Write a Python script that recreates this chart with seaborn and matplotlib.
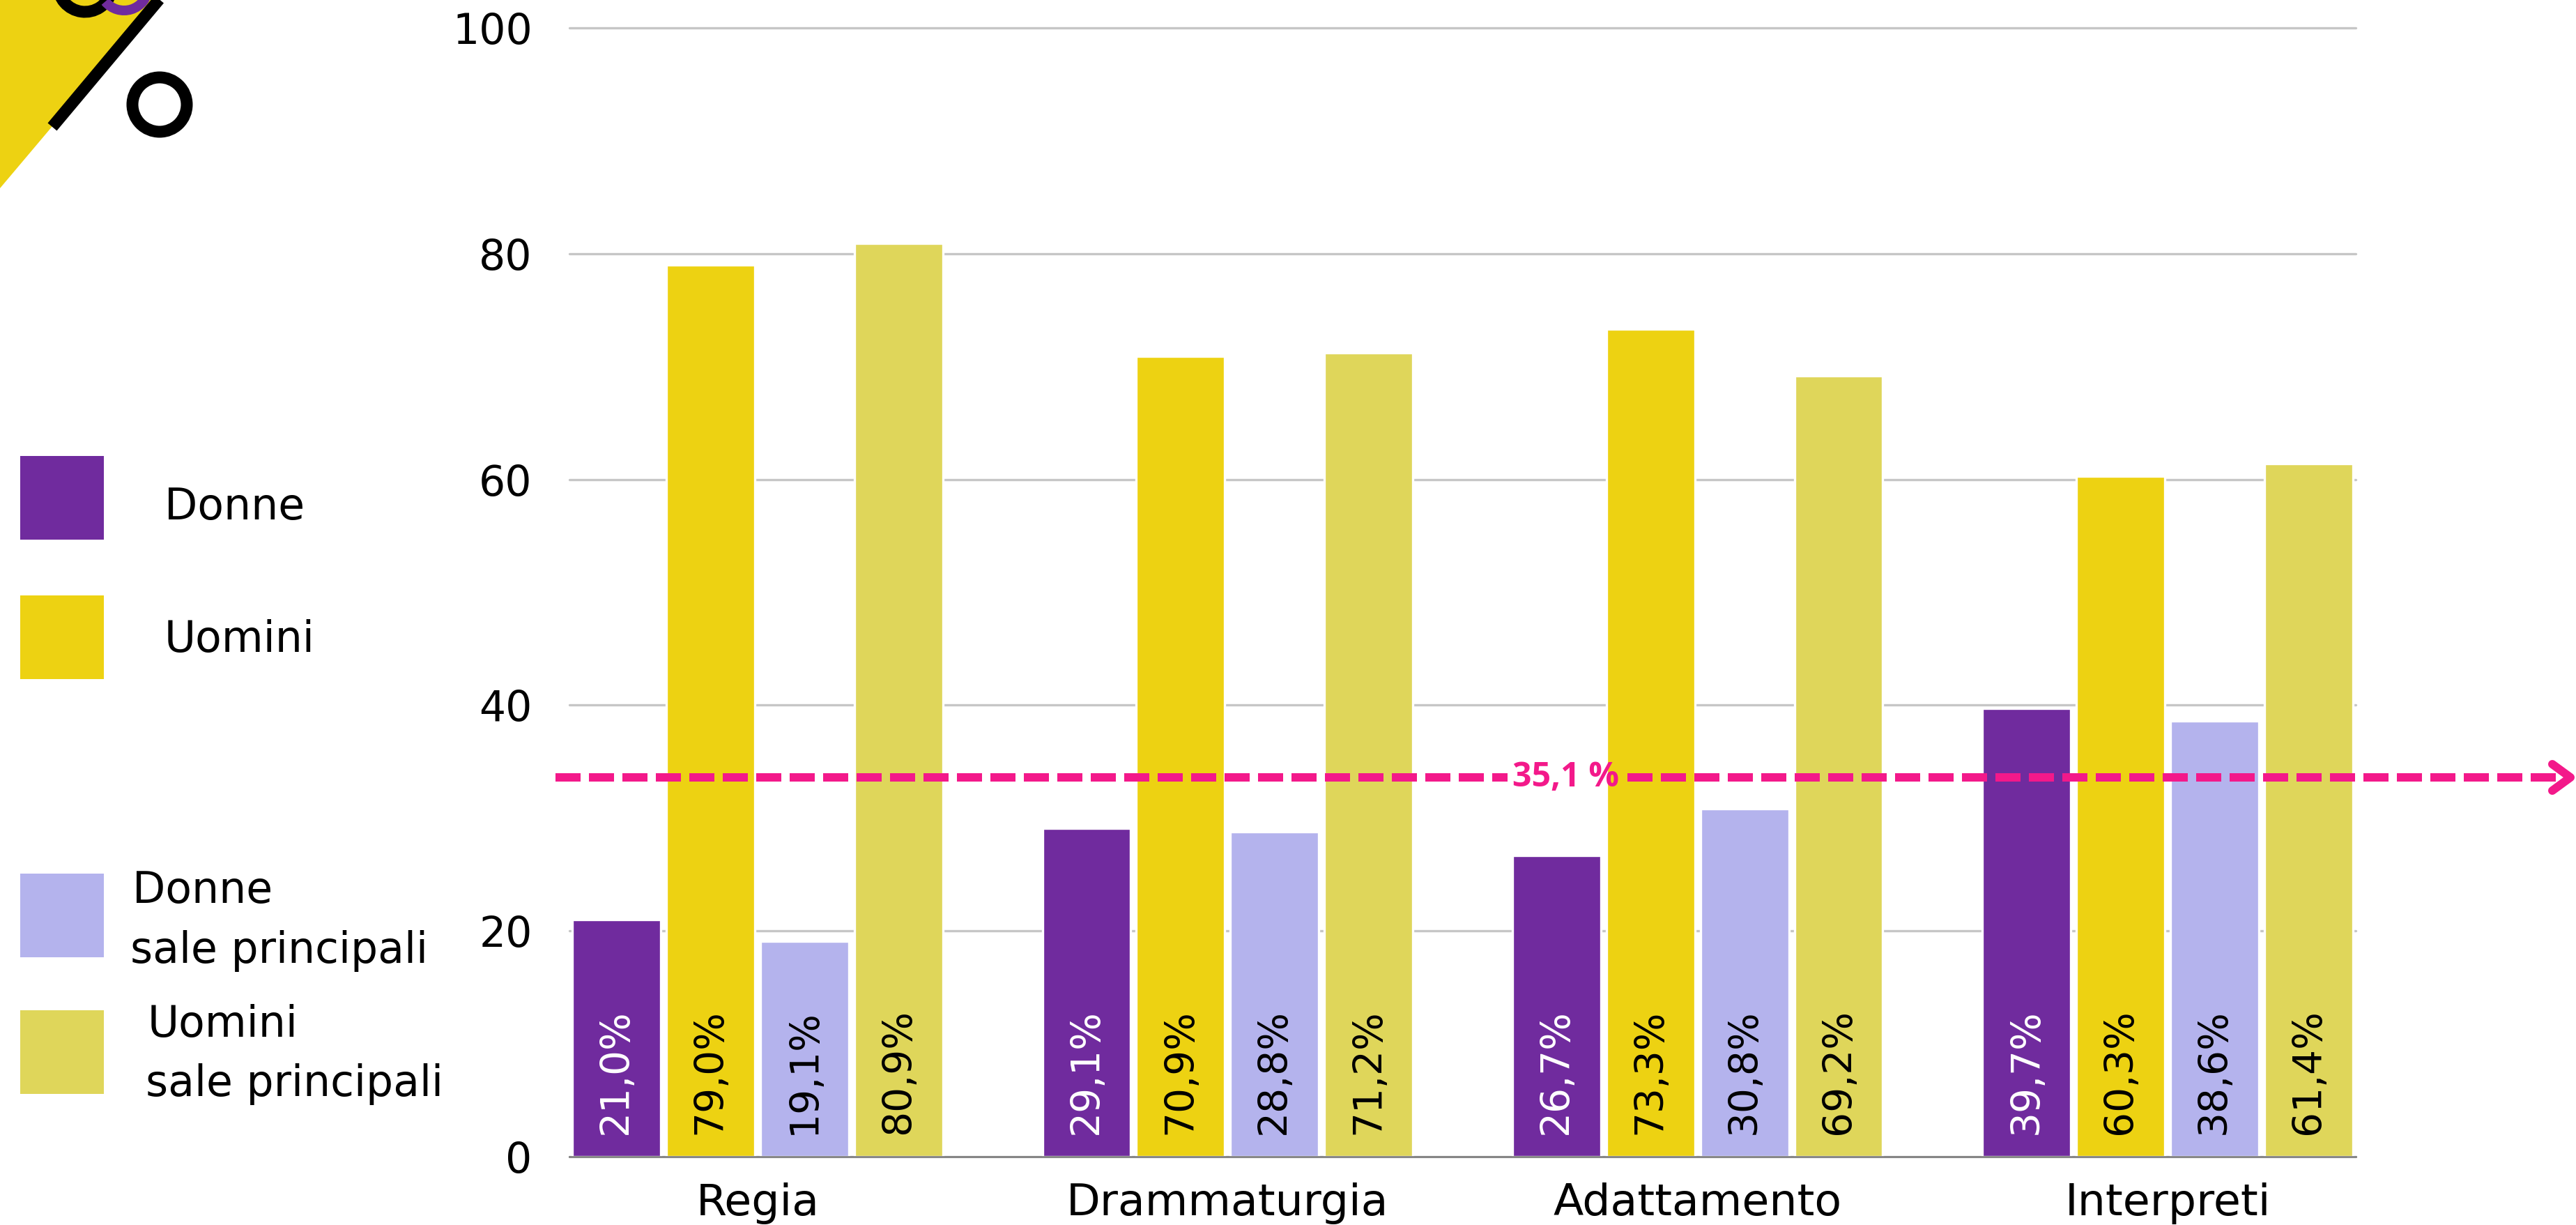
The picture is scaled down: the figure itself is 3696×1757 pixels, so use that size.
import matplotlib
matplotlib.use("Agg")
import numpy as np
import pandas as pd
import matplotlib.pyplot as plt
import matplotlib.patches as mpatches
from matplotlib.lines import Line2D
import matplotlib.transforms as mtransforms
import seaborn as sns

# ==========================================
# dati
# ==========================================
categorie = ['Regia', 'Drammaturgia', 'Adattamento', 'Interpreti']
serie = ['Donne', 'Uomini', 'Donne sale principali', 'Uomini sale principali']
donne = [21.0, 29.1, 26.7, 39.7]
uomini = [79.0, 70.9, 73.3, 60.3]
donne_sale = [19.1, 28.8, 30.8, 38.6]
uomini_sale = [80.9, 71.2, 69.2, 61.4]
media_testo = '35,1 %'
media_linea = 33.6   # posizione della linea tratteggiata come disegnata
y_ticks = [0, 20, 40, 60, 80, 100]

colori = ['#702b9e', '#edd212', '#b4b3ed', '#dfd65a']
colori_testo = ['white', 'black', 'black', 'black']

# ==========================================
# impostazioni
# ==========================================
sns.set_theme(style="white")
plt.rcParams['font.family'] = ['DejaVu Sans']

W, H = 3696, 1757
DPI = 240


def fx(x):
    return x / W


def fy(y):
    return 1 - y / H


valori = [donne, uomini, donne_sale, uomini_sale]
df = pd.DataFrame({
    'categoria': np.repeat([categorie], 4, axis=0).ravel(),
    'serie': np.repeat(serie, len(categorie)),
    'valore': np.concatenate(valori),
})

fig = plt.figure(figsize=(W / DPI, H / DPI), dpi=DPI)
ax = fig.add_axes([fx(817), fy(1659), (3380 - 817) / W, (1659 - 40) / H])

sns.barplot(data=df, x='categoria', y='valore', hue='serie', order=categorie,
            hue_order=serie, palette=dict(zip(serie, colori)), saturation=1,
            width=0.8, gap=0.06, legend=False, errorbar=None, ax=ax, zorder=2)

ax.set_xlim(-0.4, 3.4)
ax.set_ylim(0, 100)
ax.set_yticks(y_ticks)
ax.set_xlabel('')
ax.set_ylabel('')
ax.yaxis.grid(True, color='#c6c6c6', linewidth=1.0)
ax.set_axisbelow(True)
for gl in ax.get_ygridlines():
    gl.set_clip_on(False)
for s in ['top', 'right', 'left']:
    ax.spines[s].set_visible(False)
ax.spines['bottom'].set_color('#7f7f7f')
ax.spines['bottom'].set_linewidth(0.8)
ax.spines['bottom'].set_zorder(3)
ax.tick_params(axis='y', length=0, pad=16, labelsize=18, labelcolor='black')
ax.tick_params(axis='x', length=0, pad=11, labelsize=19, labelcolor='black')

# etichette dentro le barre
for i, cont in enumerate(ax.containers):
    for j, bar in enumerate(cont):
        testo = f"{valori[i][j]:.1f}%".replace('.', ',')
        ax.text(bar.get_x() + bar.get_width() / 2, 2.0, testo, rotation=90,
                ha='center', va='bottom', fontsize=17, color=colori_testo[i],
                zorder=4)

# linea della media
rosa = '#f3198a'
lw = 12 * 72 / DPI
ax_w = 3380 - 817
x0 = (797 - 817) / ax_w
x_gap1 = (2163 - 817) / ax_w
x_gap2 = (2335 - 817) / ax_w
x_end = (3667 - 817) / ax_w
for a, b in [(x0, x_gap1), (x_gap2, x_end)]:
    ax.axhline(media_linea, xmin=a, xmax=b, color=rosa, linewidth=lw,
               linestyle=(0, (3, 1)), dash_capstyle='butt', clip_on=False,
               zorder=5)
trans = mtransforms.blended_transform_factory(ax.transAxes, ax.transData)
dy = 19 / 16.19
ax.plot([(3662 - 817) / ax_w, (3688 - 817) / ax_w, (3662 - 817) / ax_w],
        [media_linea + dy, media_linea, media_linea - dy], transform=trans,
        color=rosa, linewidth=lw, solid_capstyle='round',
        solid_joinstyle='round', clip_on=False, zorder=5)
ax.text((2247 - 817) / ax_w, media_linea, media_testo, transform=trans,
        ha='center', va='center', fontsize=14.5, fontweight='bold',
        family=['Open Sans', 'DejaVu Sans'], color=rosa, zorder=6)

# legenda
etichette = [['Donne'], ['Uomini'], ['Donne', 'sale principali'],
             ['Uomini', 'sale principali']]
quadrati_top = [654, 854, 1253, 1449]
testo_pos = [[(236, 745)], [(236, 935)], [(190, 1295), (187, 1381)],
             [(212, 1487), (209, 1572)]]
for col, top, righe, pos in zip(colori, quadrati_top, etichette, testo_pos):
    fig.patches.append(mpatches.Rectangle((fx(29), fy(top + 120)), 120 / W,
                                          120 / H, transform=fig.transFigure,
                                          facecolor=col, edgecolor='none'))
    for riga, (px, py) in zip(righe, pos):
        fig.text(fx(px), fy(py), riga, fontsize=18.5, va='baseline',
                 ha='left', color='black')

# decorazione in alto a sinistra
fig.patches.append(mpatches.Polygon([(fx(0), fy(0)), (fx(228), fy(0)),
                                     (fx(0), fy(270))], closed=True,
                                    transform=fig.transFigure,
                                    facecolor='#edd212', edgecolor='none'))
fig.lines.append(Line2D([fx(236), fx(75)], [fy(-10), fy(182)],
                        transform=fig.transFigure, color='black',
                        linewidth=17 * 72 / DPI, solid_capstyle='butt'))
fig.patches.append(mpatches.Ellipse((fx(229), fy(150)), 78 / W, 78 / H,
                                    transform=fig.transFigure,
                                    facecolor='none', edgecolor='black',
                                    linewidth=17 * 72 / DPI))
fig.patches.append(mpatches.Arc((fx(122), fy(-22)), 78 / W, 78 / H,
                                theta1=180, theta2=330,
                                transform=fig.transFigure, color='black',
                                linewidth=17 * 72 / DPI))
fig.patches.append(mpatches.Arc((fx(178), fy(-20)), 70 / W, 70 / H,
                                theta1=240, theta2=350,
                                transform=fig.transFigure, color='#702b9e',
                                linewidth=14 * 72 / DPI))

fig.savefig('out.png', dpi=DPI)
